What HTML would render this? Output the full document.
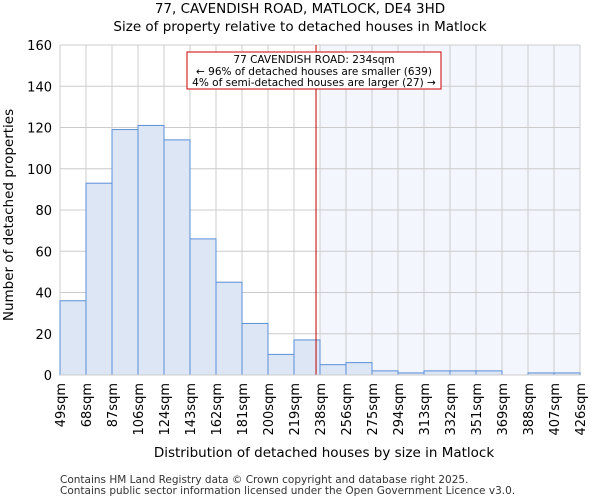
<!DOCTYPE html>
<html><head><meta charset="utf-8"><style>
body{margin:0;background:#fff;font-family:"DejaVu Sans","Liberation Sans",sans-serif}
</style></head><body>
<svg width="600" height="500" xmlns="http://www.w3.org/2000/svg" font-family="DejaVu Sans, Liberation Sans, sans-serif">
<text x="300" y="13" text-anchor="middle" font-size="13.5">77, CAVENDISH ROAD, MATLOCK, DE4 3HD</text>
<text x="300" y="31" text-anchor="middle" font-size="13.5">Size of property relative to detached houses in Matlock</text>
<g id="grid"></g>
<g id="bars"></g>
<g id="axes"></g>
<text transform="translate(13,215) rotate(-90)" text-anchor="middle" font-size="13.5">Number of detached properties</text>
<text x="324" y="457" text-anchor="middle" font-size="13.5">Distribution of detached houses by size in Matlock</text>
<text x="60" y="483" font-size="10.5" fill="#333">Contains HM Land Registry data © Crown copyright and database right 2025.</text>
<text x="60" y="494" font-size="10.5" fill="#333">Contains public sector information licensed under the Open Government Licence v3.0.</text>
<g>
<rect x="187" y="52" width="254" height="37" fill="#fff" stroke="#c00" stroke-width="1"/>
<text x="314" y="63" text-anchor="middle" font-size="10.5">77 CAVENDISH ROAD: 234sqm</text>
<text x="314" y="75" text-anchor="middle" font-size="10.5">← 96% of detached houses are smaller (639)</text>
<text x="314" y="86" text-anchor="middle" font-size="10.5">4% of semi-detached houses are larger (27) →</text>
</g>
</svg>
<script>
const categories=["49sqm","68sqm","87sqm","106sqm","124sqm","143sqm","162sqm","181sqm","200sqm","219sqm","238sqm","256sqm","275sqm","294sqm","313sqm","332sqm","351sqm","369sqm","388sqm","407sqm","426sqm"];
const counts=[36,93,119,121,114,66,45,25,10,17,5,6,2,1,2,2,2,0,1,1];
const yTicks=[0,20,40,60,80,100,120,140,160];
const propertyValue=234;
const NS="http://www.w3.org/2000/svg";
const x0=60,x1=580,y0=375,y1=45,ymax=160;
const bw=(x1-x0)/counts.length;
const xIdx=i=>x0+i*bw;
const y=v=>y0-(v/ymax)*(y0-y1);
const binStart=i=>parseFloat(categories[i]);
function xVal(v){for(let i=0;i<categories.length-1;i++){const a=binStart(i),b=binStart(i+1);if(v>=a&&v<=b)return xIdx(i)+(v-a)/(b-a)*bw;}return x1;}
function mk(t,a,p){const e=document.createElementNS(NS,t);for(const k in a)e.setAttribute(k,a[k]);p.appendChild(e);return e;}
const grid=document.getElementById('grid'),bars=document.getElementById('bars'),axes=document.getElementById('axes');
const px=xVal(propertyValue)+1.5;
let shadeStart=x1;for(let i=0;i<categories.length;i++){if(binStart(i)>=propertyValue){shadeStart=xIdx(i);break;}}
const sh=mk('rect',{x:shadeStart,y:y1,width:x1-shadeStart,height:y0-y1,fill:'#f3f6fd'},grid);


for(const t of yTicks){const l=mk('line',{x1:x0,x2:x1,y1:y(t),y2:y(t),stroke:'#ccc'},grid);


const tx=mk('text',{x:x0-8,y:y(t)+5,'text-anchor':'end','font-size':'13'},axes);tx.textContent=t;

}
for(let i=0;i<categories.length;i++){const xx=xIdx(i);const l=mk('line',{x1:xx,x2:xx,y1:y1,y2:y0,stroke:'#ccc'},grid);


const tx=mk('text',{transform:`translate(${xx+5},${y0+8}) rotate(-90)`,'text-anchor':'end','font-size':'13'},axes);tx.textContent=categories[i];

}
counts.forEach((c,i)=>{if(c<=0)return;const r=mk('rect',{x:xIdx(i),y:y(c),width:bw,height:y0-y(c),fill:'#dce6f5',stroke:'#5a8fd6','stroke-width':1},bars);

});
const rl=mk('line',{x1:px,x2:px,y1:y1,y2:y0,stroke:'#b00','stroke-width':1},bars);


const ax=mk('line',{x1:x0,x2:x1,y1:y0,y2:y0,stroke:'#ccc'},axes);


</script>
</body></html>
